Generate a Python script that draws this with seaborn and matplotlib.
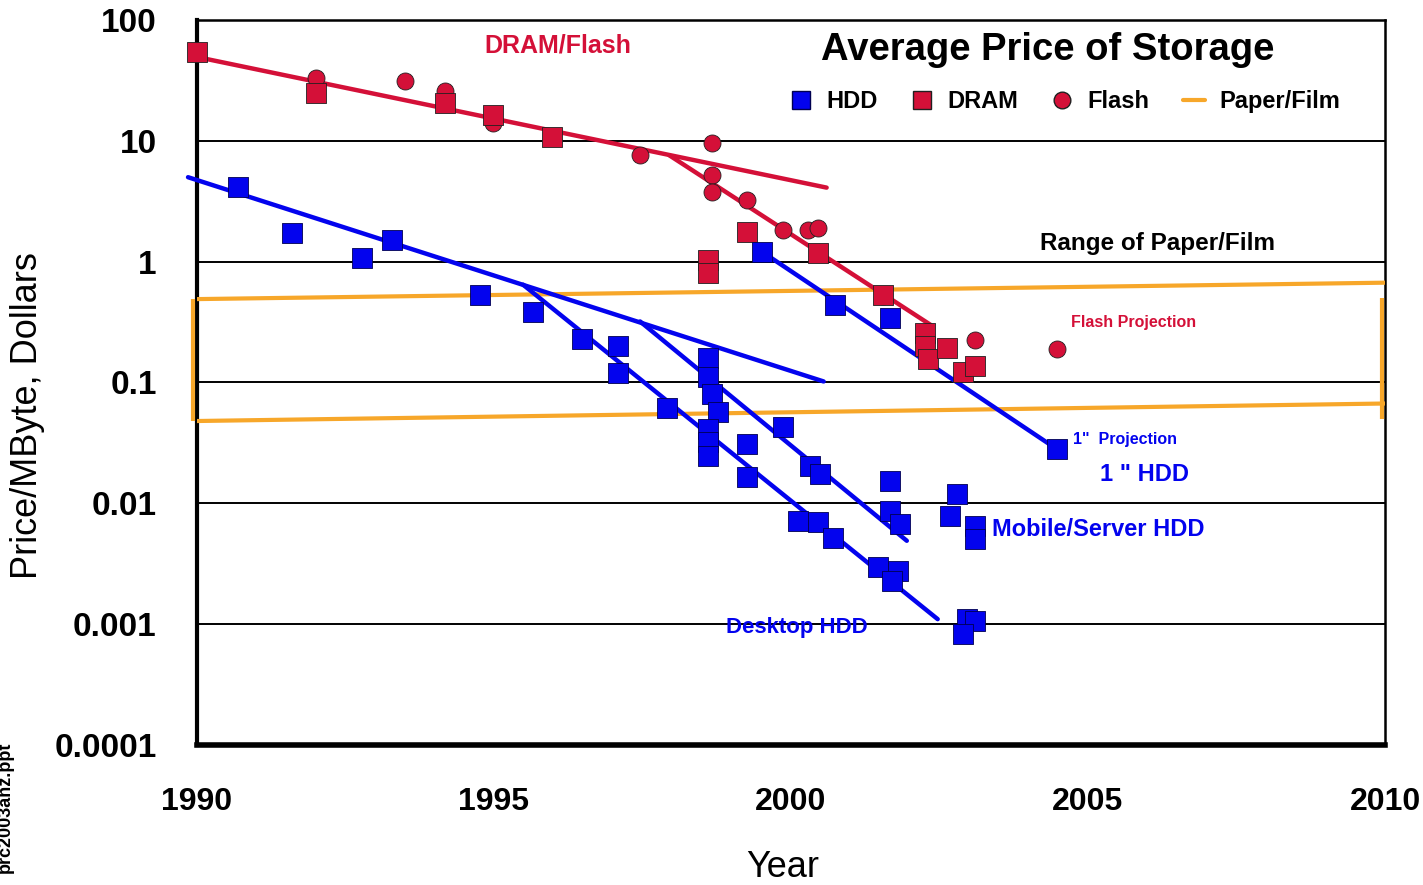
import matplotlib
matplotlib.use("Agg")
import matplotlib.pyplot as plt
from matplotlib.lines import Line2D
from matplotlib.ticker import FixedLocator, MultipleLocator, LogLocator, NullFormatter
import seaborn as sns

# data
hdd_years = [1990.69, 1991.6, 1992.78, 1993.28, 1994.76, 1995.66, 1996.48, 1997.09, 1997.09,
             1997.91, 1998.6, 1998.6, 1998.67, 1998.77, 1998.6, 1998.6, 1998.6, 1999.26,
             1999.26, 1999.51, 1999.87, 2000.32, 2000.49, 2000.12, 2000.45, 2000.71, 2000.74,
             2001.67, 2001.46, 2001.8, 2001.7, 2001.67, 2001.67, 2001.84, 2002.8, 2002.68,
             2003.1, 2003.1, 2002.96, 2003.1, 2002.9, 2004.48]
hdd_prices = [4.17, 1.74, 1.08, 1.52, 0.53, 0.386, 0.231, 0.199, 0.119,
              0.062, 0.161, 0.11, 0.08, 0.0565, 0.041, 0.032, 0.0245, 0.0307,
              0.0164, 1.21, 0.043, 0.0202, 0.0174, 0.0071, 0.0070, 0.0052, 0.44,
              0.344, 0.00296, 0.00274, 0.00227, 0.0152, 0.0086, 0.0067, 0.0119, 0.0078,
              0.00646, 0.00504, 0.0011, 0.00106, 0.000826, 0.0279]

dram_years = [1990.0, 1992.0, 1994.17, 1994.98, 1995.98, 1998.6, 1998.6, 1999.26, 2000.45,
              2001.55, 2002.26, 2002.26, 2002.3, 2002.63, 2002.9, 2003.1]
dram_prices = [54, 25, 20.6, 16.4, 10.8, 1.04, 0.81, 1.77, 1.19,
               0.53, 0.259, 0.199, 0.155, 0.194, 0.123, 0.138]

flash_years = [1992.0, 1993.5, 1994.17, 1994.98, 1997.46, 1998.67, 1998.67, 1998.67, 1999.26,
               1999.87, 2000.29, 2000.45, 2001.55, 2003.1, 2004.48]
flash_prices = [33, 31, 26, 14.1, 7.65, 9.6, 5.2, 3.8, 3.25,
                1.84, 1.84, 1.91, 0.52, 0.226, 0.191]

# trend lines (end points)
dram_flat_years, dram_flat_prices = [1990.0, 2000.6], [49.4, 4.1]
dram_steep_years, dram_steep_prices = [1997.95, 2002.35], [7.6, 0.30]
hdd_trend_years, hdd_trend_prices = [1989.85, 2000.55], [5.0, 0.102]
desktop_years, desktop_prices = [1995.49, 2002.47], [0.645, 0.0011]
mobile_years, mobile_prices = [1997.46, 2001.95], [0.32, 0.0049]
one_inch_years, one_inch_prices = [1999.51, 2004.48], [1.21, 0.028]

paper_years = [1990, 2010]
paper_low = [0.048, 0.067]
paper_high = [0.49, 0.67]

y_ticks = [1e-4, 1e-3, 1e-2, 1e-1, 1, 10, 100]
y_tick_labels = ["0.0001", "0.001", "0.01", "0.1", "1", "10", "100"]
x_ticks = [1990, 1995, 2000, 2005, 2010]

BLUE = "#0303ee"
RED = "#d41038"
ORANGE = "#f7a72a"
EDGE = "#202020"

sns.set_style("white")
plt.rcParams["font.family"] = ["Liberation Sans", "DejaVu Sans"]
plt.rcParams["text.color"] = "black"
plt.rcParams["axes.labelcolor"] = "black"

fig = plt.figure(figsize=(14.23, 8.85), dpi=100)
ax = fig.add_axes([0.1384, 0.1582, 0.8349, 0.8192])
ax.set_yscale("log")

# paper/film range
for vals in (paper_low, paper_high):
    sns.lineplot(x=paper_years, y=vals, color=ORANGE, lw=3, ax=ax, zorder=3)
ax.vlines([1989.93], paper_low[0], paper_high[0], color=ORANGE, lw=3, clip_on=False, zorder=3)
ax.vlines([2009.95], paper_low[1] * 0.75, paper_high[1] * 0.74, color=ORANGE, lw=3,
          clip_on=False, zorder=3)

# trend lines
segments = [
    (dram_flat_years, dram_flat_prices, RED),
    (dram_steep_years, dram_steep_prices, RED),
    (hdd_trend_years, hdd_trend_prices, BLUE),
    (desktop_years, desktop_prices, BLUE),
    (mobile_years, mobile_prices, BLUE),
    (one_inch_years, one_inch_prices, BLUE),
]
for xs, ys, col in segments:
    sns.lineplot(x=xs, y=ys, color=col, lw=3.2, ax=ax, zorder=4).lines[-1].set_clip_on(False)

# points
sns.scatterplot(x=flash_years, y=flash_prices, marker="o", color=RED, s=150,
                edgecolor=EDGE, linewidth=0.6, ax=ax, zorder=5, clip_on=False)
sns.scatterplot(x=dram_years, y=dram_prices, marker="s", color=RED, s=190,
                edgecolor=EDGE, linewidth=0.6, ax=ax, zorder=5, clip_on=False)
sns.scatterplot(x=hdd_years, y=hdd_prices, marker="s", color=BLUE, s=190,
                edgecolor="#000050", linewidth=0.6, ax=ax, zorder=5, clip_on=False)

# axes
ax.set_xlim(1990, 2010)
ax.set_ylim(1e-4, 100)
ax.xaxis.set_major_locator(FixedLocator(x_ticks))
ax.xaxis.set_minor_locator(MultipleLocator(1))
ax.yaxis.set_major_locator(FixedLocator(y_ticks))
ax.set_yticklabels(y_tick_labels)
ax.yaxis.set_minor_locator(LogLocator(base=10, subs=range(2, 10)))
ax.yaxis.set_minor_formatter(NullFormatter())
ax.yaxis.grid(True, which="major", color="black", lw=1.4)
ax.xaxis.grid(False)
ax.set_axisbelow(True)

ax.tick_params(axis="both", which="both", direction="in", colors="black", width=2)
ax.tick_params(axis="x", which="major", length=20, pad=30)
ax.tick_params(axis="x", which="minor", length=10)
ax.tick_params(axis="y", which="major", length=12, pad=29)
ax.tick_params(axis="y", which="minor", length=7, width=1.5)
for lab in ax.get_xticklabels():
    lab.set_fontsize(23)
    lab.set_fontweight("bold")
for lab in ax.get_yticklabels():
    lab.set_fontsize(24)
    lab.set_fontweight("bold")

for side, lw in (("left", 3), ("bottom", 4), ("top", 1.8), ("right", 1.8)):
    ax.spines[side].set_visible(True)
    ax.spines[side].set_color("black")
    ax.spines[side].set_linewidth(lw)

ax.set_xlabel("Year", fontsize=26)
ax.set_ylabel("Price/MByte, Dollars", fontsize=26)
ax.xaxis.set_label_coords(0.493, -0.145)
ax.yaxis.set_label_coords(-0.128, 0.455)

# title and legend
ax.text(0.716, 0.959, "Average Price of Storage", transform=ax.transAxes,
        ha="center", va="center", fontsize=27.5, fontweight="bold")
handles = [
    Line2D([], [], ls="none", marker="s", markersize=13, markerfacecolor=BLUE,
           markeredgecolor="#000050", label="HDD"),
    Line2D([], [], ls="none", marker="s", markersize=13, markerfacecolor=RED,
           markeredgecolor=EDGE, label="DRAM"),
    Line2D([], [], ls="none", marker="o", markersize=12, markerfacecolor=RED,
           markeredgecolor=EDGE, label="Flash"),
    Line2D([], [], color=ORANGE, lw=3, label="Paper/Film"),
]
ax.legend(handles=handles, ncol=4, frameon=False, loc="center left",
          bbox_to_anchor=(0.481, 0.887), handlelength=0.95, handletextpad=0.6,
          columnspacing=1.4, prop={"size": 17, "weight": "bold"})

# annotations
ax.text(1996.08, 61, "DRAM/Flash", color=RED, fontsize=18, fontweight="bold",
        ha="center", va="center")
ax.text(2004.19, 1.41, "Range of Paper/Film", color="black", fontsize=17.5,
        fontweight="bold", ha="left", va="center")
ax.text(2004.71, 0.313, "Flash Projection", color=RED, fontsize=11.5,
        fontweight="bold", ha="left", va="center")
ax.text(2004.75, 0.0338, '1"  Projection', color=BLUE, fontsize=11.5,
        fontweight="bold", ha="left", va="center")
ax.text(2005.2, 0.0174, '1 " HDD', color=BLUE, fontsize=17, fontweight="bold",
        ha="left", va="center")
ax.text(2003.38, 0.0061, "Mobile/Server HDD", color=BLUE, fontsize=17,
        fontweight="bold", ha="left", va="center")
ax.text(2000.1, 0.00093, "Desktop HDD", color=BLUE, fontsize=16, fontweight="bold",
        ha="center", va="center")

fig.text(0.004, 1 - 742 / 885, "prc2003anz.ppt", rotation=90, ha="center", va="top",
         fontsize=13, fontweight="bold")

fig.savefig("out.png", dpi=100)
